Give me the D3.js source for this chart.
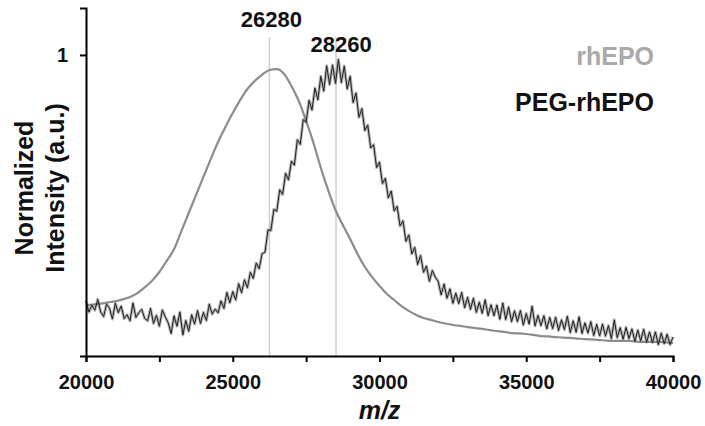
<!DOCTYPE html>
<html>
<head>
<meta charset="utf-8">
<script src="https://cdn.jsdelivr.net/npm/d3@7"></script>
<style>
  body { margin: 0; background: #fff; }
  svg { display: block; font-family: "Liberation Sans", Arial, sans-serif; }
</style>
</head>
<body>
<div id="chart"></div>
<script>
// m/z grids (one value per point of each trace)
const mzRhEPO = d3.range(20000, 40001, 250);
const mzPeg = d3.range(20000, 40001, 100);

// rhEPO, normalized intensity
const rhEPO = [
  0.169, 0.171, 0.174, 0.178, 0.182, 0.188, 0.196, 0.209, 0.228, 0.250,
  0.279, 0.316, 0.355, 0.415, 0.475, 0.535, 0.595, 0.654, 0.711, 0.761,
  0.807, 0.850, 0.887, 0.914, 0.934, 0.950, 0.953, 0.937, 0.897, 0.847,
  0.781, 0.708, 0.625, 0.551, 0.485, 0.435, 0.389, 0.339, 0.296, 0.262,
  0.233, 0.206, 0.186, 0.166, 0.150, 0.136, 0.126, 0.120, 0.113, 0.108,
  0.103, 0.100, 0.096, 0.093, 0.090, 0.086, 0.083, 0.080, 0.076, 0.075,
  0.073, 0.070, 0.066, 0.065, 0.063, 0.061, 0.060, 0.058, 0.056, 0.055,
  0.053, 0.051, 0.050, 0.050, 0.050, 0.048, 0.047, 0.047, 0.047, 0.045,
  0.043
];

// PEG-rhEPO, noisy trace
const pegRhEPO = [
  0.183, 0.146, 0.169, 0.152, 0.188, 0.146, 0.131, 0.172, 0.159, 0.123,
  0.175, 0.144, 0.166, 0.124, 0.137, 0.117, 0.176, 0.128, 0.144, 0.155,
  0.125, 0.117, 0.158, 0.108, 0.135, 0.099, 0.153, 0.130, 0.110, 0.075,
  0.133, 0.099, 0.146, 0.070, 0.118, 0.082, 0.137, 0.106, 0.151, 0.108,
  0.145, 0.118, 0.172, 0.139, 0.156, 0.143, 0.183, 0.158, 0.211, 0.177,
  0.214, 0.186, 0.240, 0.210, 0.253, 0.227, 0.278, 0.258, 0.309, 0.290,
  0.340, 0.345, 0.419, 0.417, 0.487, 0.481, 0.552, 0.537, 0.607, 0.585,
  0.647, 0.634, 0.718, 0.703, 0.785, 0.777, 0.849, 0.817, 0.890, 0.851,
  0.929, 0.880, 0.964, 0.902, 0.967, 0.906, 0.985, 0.908, 0.963, 0.887,
  0.929, 0.842, 0.874, 0.793, 0.822, 0.749, 0.767, 0.691, 0.702, 0.626,
  0.644, 0.573, 0.590, 0.525, 0.548, 0.482, 0.497, 0.432, 0.449, 0.381,
  0.402, 0.339, 0.361, 0.304, 0.334, 0.278, 0.299, 0.248, 0.284, 0.262,
  0.248, 0.203, 0.239, 0.192, 0.223, 0.175, 0.209, 0.174, 0.211, 0.160,
  0.195, 0.155, 0.192, 0.145, 0.179, 0.142, 0.187, 0.134, 0.170, 0.134,
  0.169, 0.122, 0.176, 0.121, 0.163, 0.114, 0.150, 0.114, 0.151, 0.103,
  0.141, 0.106, 0.165, 0.100, 0.135, 0.101, 0.134, 0.090, 0.128, 0.091,
  0.129, 0.085, 0.120, 0.088, 0.132, 0.078, 0.117, 0.079, 0.130, 0.075,
  0.110, 0.076, 0.114, 0.068, 0.105, 0.067, 0.106, 0.066, 0.101, 0.058,
  0.120, 0.061, 0.094, 0.056, 0.095, 0.058, 0.090, 0.049, 0.086, 0.050,
  0.089, 0.046, 0.080, 0.045, 0.080, 0.038, 0.076, 0.041, 0.072, 0.038,
  0.063
];

// peak markers: where the line sits and what it says
const peakPositions = [26250, 28520];
const peakLabels = ['26280', '28260'];

const xTicks = [20000, 22500, 25000, 27500, 30000, 32500, 35000, 37500, 40000];
const xTickLabels = ['20000', '', '25000', '', '30000', '', '35000', '', '40000'];
const yTicks = [1];

const width = 705, height = 426;
const margin = { left: 86, right: 32, top: 8, bottom: 70 };

const svg = d3.select('#chart').append('svg')
  .attr('width', width)
  .attr('height', height);

const x = d3.scaleLinear()
  .domain([20000, 40000])
  .range([margin.left, width - margin.right]);

const y = d3.scaleLinear()
  .domain([0, 1.156])
  .range([height - margin.bottom, margin.top]);

// peak reference lines
svg.append('g')
  .selectAll('line')
  .data(peakPositions)
  .enter()
  .append('line')
  .attr('x1', d => x(d))
  .attr('x2', d => x(d))
  .attr('y1', y(1.06))
  .attr('y2', y(0))
  .attr('stroke', '#cfcfcf')
  .attr('stroke-width', 1.5);

// rhEPO trace
svg.append('path')
  .datum(d3.zip(mzRhEPO, rhEPO))
  .attr('d', d3.line()
    .x(d => x(d[0]))
    .y(d => y(d[1]))
    .curve(d3.curveMonotoneX))
  .attr('fill', 'none')
  .attr('stroke', '#8c8c8c')
  .attr('stroke-width', 2.2);

// PEG-rhEPO trace: soft underlay for the noisy band, then the trace itself
const pegData = d3.zip(mzPeg, pegRhEPO);
const rawLine = d3.line()
  .x(d => x(d[0]))
  .y(d => y(d[1]));

svg.append('path')
  .datum(pegData)
  .attr('d', rawLine)
  .attr('fill', 'none')
  .attr('stroke', '#666')
  .attr('stroke-opacity', 0.5)
  .attr('stroke-width', 3)
  .attr('stroke-linejoin', 'round');

svg.append('path')
  .datum(pegData)
  .attr('d', rawLine)
  .attr('fill', 'none')
  .attr('stroke', '#222')
  .attr('stroke-width', 1);

// axes
const xAxis = svg.append('g')
  .attr('transform', `translate(0, ${y(0)})`)
  .call(d3.axisBottom(x)
    .tickValues(xTicks)
    .tickFormat((d, i) => xTickLabels[i])
    .tickSizeOuter(0)
    .tickSize(6)
    .tickPadding(13));

const yAxis = svg.append('g')
  .attr('transform', `translate(${margin.left}, 0)`)
  .call(d3.axisLeft(y)
    .tickValues(yTicks)
    .tickFormat(d3.format('d'))
    .tickSizeOuter(0)
    .tickSize(6)
    .tickPadding(12));

[xAxis, yAxis].forEach(g => {
  g.select('.domain').attr('stroke', '#000').attr('stroke-width', 2);
  g.selectAll('.tick line').attr('stroke', '#000').attr('stroke-width', 2);
  g.selectAll('.tick text')
    .attr('fill', '#111')
    .attr('font-size', '20px')
    .attr('font-weight', 'bold')
    .attr('font-family', '"Liberation Sans", Arial, sans-serif');
});

// peak labels
const labelY = [27, 52];
svg.append('g')
  .selectAll('text')
  .data(peakLabels)
  .enter()
  .append('text')
  .attr('x', (d, i) => x(peakPositions[i]) + (i === 0 ? 2 : 5))
  .attr('y', (d, i) => labelY[i])
  .attr('text-anchor', 'middle')
  .attr('font-size', '22px')
  .attr('font-weight', 'bold')
  .attr('fill', '#111')
  .text(d => d);

// legend
svg.append('text')
  .attr('x', 654)
  .attr('y', 65)
  .attr('text-anchor', 'end')
  .attr('font-size', '25px')
  .attr('font-weight', 'bold')
  .attr('fill', '#a9a9a9')
  .text('rhEPO');

svg.append('text')
  .attr('x', 654)
  .attr('y', 111)
  .attr('text-anchor', 'end')
  .attr('font-size', '25px')
  .attr('font-weight', 'bold')
  .attr('fill', '#111')
  .text('PEG-rhEPO');

// axis titles
svg.append('text')
  .attr('x', (x.range()[0] + x.range()[1]) / 2)
  .attr('y', 419)
  .attr('text-anchor', 'middle')
  .attr('font-size', '25px')
  .attr('font-weight', 'bold')
  .attr('font-style', 'italic')
  .attr('fill', '#111')
  .text('m/z');

const yTitle = svg.append('text')
  .attr('transform', 'translate(33, 188) rotate(-90)')
  .attr('text-anchor', 'middle')
  .attr('font-size', '25px')
  .attr('font-weight', 'bold')
  .attr('fill', '#111');

yTitle.append('tspan').attr('x', 0).attr('y', 0).text('Normalized');
yTitle.append('tspan').attr('x', 0).attr('y', 31).text('Intensity (a.u.)');
</script>
</body>
</html>
